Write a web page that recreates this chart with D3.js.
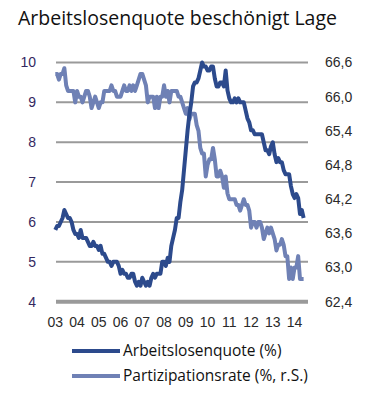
<!DOCTYPE html>
<html>
<head>
<meta charset="utf-8">
<script src="https://cdn.jsdelivr.net/npm/d3@7"></script>
<style>
  body { margin: 0; background: #fff; }
  svg { display: block; }
</style>
</head>
<body>
<div id="chart"></div>
<script>
// monthly values, Jan 2003 - Jun 2014
const startYear = 2003;
const arbeitslosenquote = [
  5.8, 5.9, 5.9, 6.0, 6.1, 6.3, 6.2, 6.1, 6.1, 6.0, 5.8, 5.7,
  5.7, 5.6, 5.8, 5.6, 5.6, 5.6, 5.5, 5.4, 5.4, 5.5, 5.4, 5.4,
  5.3, 5.4, 5.2, 5.2, 5.1, 5.0, 5.0, 4.9, 5.0, 5.0, 5.0, 4.9,
  4.7, 4.8, 4.7, 4.7, 4.6, 4.6, 4.7, 4.7, 4.5, 4.4, 4.5, 4.4,
  4.6, 4.5, 4.4, 4.5, 4.4, 4.6, 4.7, 4.6, 4.7, 4.7, 4.7, 5.0,
  5.0, 4.9, 5.1, 5.0, 5.4, 5.6, 5.8, 6.1, 6.1, 6.5, 6.8, 7.3,
  7.8, 8.3, 8.7, 9.0, 9.4, 9.5, 9.5, 9.6, 9.8, 10.0, 9.9, 9.9,
  9.8, 9.8, 9.9, 9.9, 9.6, 9.4, 9.4, 9.5, 9.5, 9.4, 9.8, 9.3,
  9.1, 9.0, 9.0, 9.1, 9.0, 9.1, 9.0, 9.0, 9.0, 8.8, 8.6, 8.5,
  8.3, 8.3, 8.2, 8.2, 8.2, 8.2, 8.2, 8.0, 7.8, 7.8, 7.7, 7.9,
  8.0, 7.7, 7.5, 7.6, 7.5, 7.5, 7.3, 7.2, 7.2, 7.2, 6.9, 6.7,
  6.6, 6.7, 6.6, 6.2, 6.3, 6.1
];
const partizipationsrate = [
  66.4, 66.4, 66.3, 66.4, 66.4, 66.5, 66.2, 66.1, 66.1, 66.1, 66.1, 65.9,
  66.1, 66.0, 66.0, 65.9, 66.0, 66.1, 66.1, 66.0, 65.8, 65.9, 66.0, 65.9,
  65.8, 65.9, 65.9, 66.1, 66.1, 66.1, 66.1, 66.2, 66.1, 66.1, 66.0, 66.0,
  66.0, 66.1, 66.2, 66.1, 66.1, 66.2, 66.1, 66.2, 66.1, 66.2, 66.3, 66.4,
  66.4, 66.3, 66.2, 65.9, 66.0, 66.0, 66.0, 65.8, 66.0, 65.8, 66.0, 66.0,
  66.2, 66.0, 66.1, 65.9, 66.1, 66.1, 66.1, 66.1, 66.0, 66.0, 65.9, 65.8,
  65.7, 65.8, 65.6, 65.7, 65.7, 65.7, 65.5, 65.4, 65.1, 65.0, 65.0, 64.6,
  64.8, 64.9, 64.9, 65.1, 64.9, 64.6, 64.6, 64.7, 64.6, 64.4, 64.6, 64.3,
  64.2, 64.2, 64.2, 64.2, 64.1, 64.1, 64.0, 64.1, 64.2, 64.1, 64.1, 64.0,
  63.7, 63.8, 63.8, 63.7, 63.8, 63.8, 63.7, 63.5, 63.6, 63.7, 63.6, 63.7,
  63.6, 63.5, 63.3, 63.4, 63.4, 63.5, 63.4, 63.2, 63.2, 62.8, 63.0, 62.8,
  63.0, 63.0, 63.2, 62.8, 62.8, 62.8
];
const yearLabels = ["03", "04", "05", "06", "07", "08", "09", "10", "11", "12", "13", "14"];
const leftTicks = [4, 5, 6, 7, 8, 9, 10];
const rightTicks = [62.4, 63.0, 63.6, 64.2, 64.8, 65.4, 66.0, 66.6];
const seriesNames = ["Arbeitslosenquote (%)", "Partizipationsrate (%, r.S.)"];

const W = 372, H = 398;
const dark = "#2c4a8c", light = "#6f81b5", grid = "#9a9a9a";

const svg = d3.select("#chart").append("svg")
  .attr("width", W).attr("height", H);

svg.append("text")
  .attr("x", 18).attr("y", 25)
  .attr("font-family", "'Open Sans', sans-serif")
  .attr("font-size", 20)
  .attr("textLength", 319)
  .attr("lengthAdjust", "spacingAndGlyphs")
  .attr("fill", "#111")
  .text("Arbeitslosenquote beschönigt Lage");

const plot = { left: 56, right: 308, top: 62.5, bottom: 301.7 };

const x = d3.scaleLinear()
  .domain([2003, 2014])
  .range([55.3, 55.3 + 11 * 21.75]);
const yL = d3.scaleLinear().domain([4, 10]).range([plot.bottom, plot.top]);
const yR = d3.scaleLinear().domain([62.4, 66.6]).range([plot.bottom, plot.top]);

// gridlines
svg.append("g").selectAll("line")
  .data(leftTicks)
  .join("line")
  .attr("x1", plot.left).attr("x2", plot.right)
  .attr("y1", d => yL(d)).attr("y2", d => yL(d))
  .attr("stroke", grid)
  .attr("stroke-width", d => d === 4 ? 4 : 2);

// left axis labels
svg.append("g").selectAll("text")
  .data(leftTicks)
  .join("text")
  .attr("x", 36).attr("y", d => yL(d))
  .attr("dy", "0.35em")
  .attr("text-anchor", "end")
  .attr("font-family", "'Liberation Sans', Arial, sans-serif")
  .attr("font-size", 14)
  .attr("fill", "#33285f")
  .text(d => d);

// right axis labels
svg.append("g").selectAll("text")
  .data(rightTicks)
  .join("text")
  .attr("x", 325).attr("y", d => yR(d))
  .attr("dy", "0.35em")
  .attr("font-family", "'Liberation Sans', Arial, sans-serif")
  .attr("font-size", 14)
  .attr("fill", "#2a2a2a")
  .text(d => d.toFixed(1).replace(".", ","));

// x labels
svg.append("g").selectAll("text")
  .data(yearLabels)
  .join("text")
  .attr("x", (d, i) => x(startYear + i))
  .attr("y", 327)
  .attr("text-anchor", "middle")
  .attr("font-family", "'Liberation Sans', Arial, sans-serif")
  .attr("font-size", 14)
  .attr("fill", "#2a2a2a")
  .text(d => d);

const t = i => startYear + i / 12;

const lineL = d3.line()
  .x((d, i) => x(t(i)))
  .y(d => yL(d));
const lineR = d3.line()
  .x((d, i) => x(t(i)))
  .y(d => yR(d));

svg.append("path")
  .datum(partizipationsrate)
  .attr("d", lineR)
  .attr("fill", "none")
  .attr("stroke", light)
  .attr("stroke-width", 4)
  .attr("stroke-linejoin", "round");

svg.append("path")
  .datum(arbeitslosenquote)
  .attr("d", lineL)
  .attr("fill", "none")
  .attr("stroke", dark)
  .attr("stroke-width", 4)
  .attr("stroke-linejoin", "round");

// legend
const legend = svg.append("g").selectAll("g")
  .data(seriesNames)
  .join("g")
  .attr("transform", (d, i) => `translate(0, ${351 + i * 25})`);

legend.append("line")
  .attr("x1", 72).attr("x2", 120)
  .attr("stroke", (d, i) => i === 0 ? dark : light)
  .attr("stroke-width", 4);

legend.append("text")
  .attr("x", 123).attr("dy", "0.35em")
  .attr("font-family", "'Open Sans', sans-serif")
  .attr("font-size", 15.5)
  .attr("fill", "#111")
  .text(d => d);
</script>
</body>
</html>
